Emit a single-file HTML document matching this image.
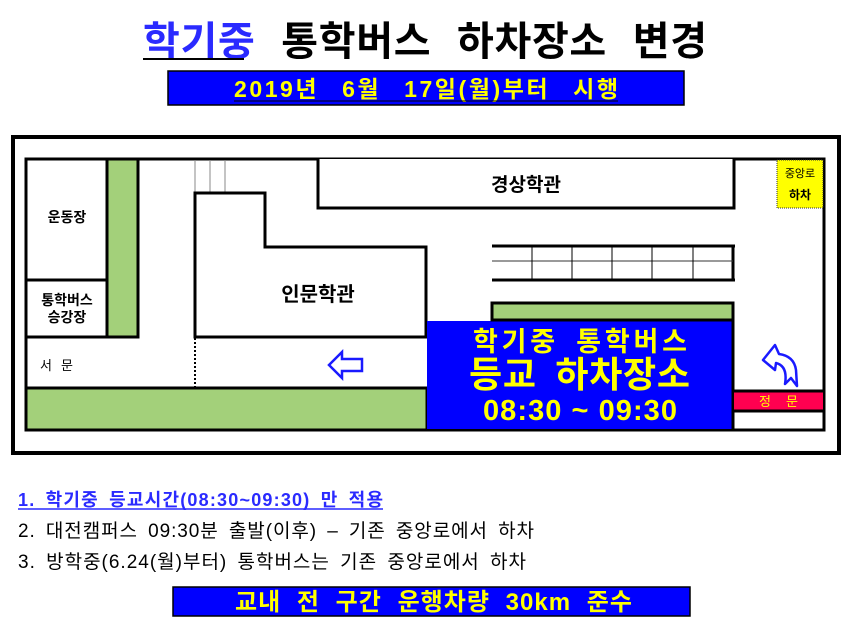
<!DOCTYPE html>
<html><head><meta charset="utf-8"><style>
body{margin:0;background:#fff;}
svg{display:block;font-family:"Liberation Sans","Noto Sans CJK KR","NanumGothic",sans-serif;}
</style></head><body>
<svg width="850" height="621" viewBox="0 0 850 621" xmlns="http://www.w3.org/2000/svg">
<rect width="850" height="621" fill="#fff"/>
<!-- Title -->
<text x="143" y="55" font-size="40" font-weight="bold" fill="#000" word-spacing="14" textLength="564" lengthAdjust="spacing"><tspan fill="#2a2aff">학기중</tspan> 통학버스 하차장소 변경</text>
<line x1="143" y1="59" x2="244" y2="59" stroke="#000" stroke-width="2"/>
<rect x="168" y="71" width="516" height="34" fill="#0000ff" stroke="#000" stroke-width="1.5"/>
<text x="234" y="97" font-size="23" font-weight="bold" fill="#ffff00" word-spacing="14" textLength="384" lengthAdjust="spacing">2019년 6월 17일(월)부터 시행</text>
<line x1="234" y1="101" x2="618" y2="101" stroke="#000" stroke-width="1"/>

<!-- Map frame -->
<rect x="13" y="137" width="826" height="316" fill="#fff" stroke="#000" stroke-width="4"/>
<rect x="26" y="159" width="798" height="271" fill="#fff" stroke="#000" stroke-width="3"/>

<!-- left boxes -->
<rect x="26" y="159" width="81" height="121" fill="#fff" stroke="#000" stroke-width="3"/>
<rect x="26" y="280" width="81" height="57" fill="#fff" stroke="#000" stroke-width="3"/>
<rect x="107" y="159" width="31" height="178" fill="#a3d07a" stroke="#000" stroke-width="3"/>
<text x="67" y="222" font-size="14" font-weight="bold" text-anchor="middle">운동장</text>
<text x="67" y="305" font-size="14" font-weight="bold" text-anchor="middle">통학버스</text>
<text x="67" y="322" font-size="14" font-weight="bold" text-anchor="middle">승강장</text>
<text x="40" y="370" font-size="13" textLength="33" lengthAdjust="spacing">서 문</text>

<!-- thin lines top -->
<line x1="195" y1="160" x2="195" y2="193" stroke="#888" stroke-width="1"/>
<line x1="210" y1="160" x2="210" y2="193" stroke="#888" stroke-width="1"/>
<line x1="225" y1="160" x2="225" y2="193" stroke="#888" stroke-width="1"/>
<line x1="195" y1="338" x2="195" y2="387" stroke="#000" stroke-width="2" stroke-dasharray="2,2"/>

<!-- 인문학관 -->
<polygon points="195,193 265,193 265,247 426,247 426,337 195,337" fill="#fff" stroke="#000" stroke-width="3"/>
<text x="318" y="301" font-size="20" font-weight="bold" text-anchor="middle">인문학관</text>

<!-- bottom green band -->
<rect x="26" y="388" width="401" height="42" fill="#a3d07a" stroke="#000" stroke-width="3"/>

<!-- left arrow -->
<polygon points="329,365 342,352 342,359 362,359 362,371 342,371 342,378" fill="#fff" stroke="#1a1aff" stroke-width="2.5"/>

<!-- 경상학관 -->
<polyline points="318,159 318,208 734,208 734,159" fill="#fff" stroke="#000" stroke-width="3"/>
<text x="526" y="191" font-size="19" font-weight="bold" text-anchor="middle">경상학관</text>

<!-- 중앙로 하차 -->
<rect x="777" y="160" width="46" height="48" fill="#ffff00" stroke="#333" stroke-width="1" stroke-dasharray="1,1"/>
<text x="800" y="177" font-size="11" text-anchor="middle">중앙로</text>
<text x="800" y="199" font-size="12" font-weight="bold" text-anchor="middle">하차</text>
<line x1="734" y1="159" x2="734" y2="208" stroke="#000" stroke-width="3"/>

<!-- grid -->
<line x1="492" y1="246" x2="735" y2="246" stroke="#000" stroke-width="3"/>
<line x1="492" y1="280" x2="735" y2="280" stroke="#000" stroke-width="3"/>
<line x1="733" y1="245" x2="733" y2="281" stroke="#000" stroke-width="3"/>
<line x1="492" y1="261" x2="733" y2="261" stroke="#333" stroke-width="1"/>
<g stroke="#000" stroke-width="1">
<line x1="532" y1="247" x2="532" y2="279"/><line x1="572" y1="247" x2="572" y2="279"/>
<line x1="612" y1="247" x2="612" y2="279"/><line x1="652" y1="247" x2="652" y2="279"/>
<line x1="693" y1="247" x2="693" y2="279"/></g>

<!-- blue box -->
<rect x="427" y="321" width="306" height="108" fill="#0000ff"/>
<line x1="733" y1="320" x2="733" y2="430" stroke="#000" stroke-width="3"/>
<rect x="492" y="303" width="241" height="17" fill="#a3d07a" stroke="#000" stroke-width="3"/>
<text x="473" y="351" font-size="27" font-weight="bold" fill="#ffff00" word-spacing="6" textLength="214" lengthAdjust="spacing">학기중 통학버스</text>
<text x="469" y="387" font-size="36" font-weight="bold" fill="#ffff00" word-spacing="8" textLength="221" lengthAdjust="spacing">등교 하차장소</text>
<text x="483" y="420" font-size="29" font-weight="bold" fill="#ffff00" textLength="194" lengthAdjust="spacing">08:30 ~ 09:30</text>

<!-- 정문 -->
<rect x="734" y="392" width="89" height="18" fill="#ff0050"/>
<line x1="734" y1="391" x2="824" y2="391" stroke="#000" stroke-width="3"/>
<line x1="734" y1="411" x2="824" y2="411" stroke="#000" stroke-width="3"/>
<text x="759" y="406" font-size="13" fill="#ffff00" textLength="39" lengthAdjust="spacing">정 문</text>

<!-- curved arrow -->
<path d="M775,345 L763,360 L775,370 L776,363 Q788,366 785,384 L791,378 L797,386 L796,370 Q794,356 779,354 Z" fill="#fff" stroke="#1a1aff" stroke-width="2.5" stroke-linejoin="round"/>

<!-- notes -->
<text x="18" y="506" font-size="18" font-weight="bold" fill="#2a2aff" word-spacing="4" textLength="365" lengthAdjust="spacing">1. 학기중 등교시간(08:30~09:30) 만 적용</text>
<line x1="18" y1="509" x2="383" y2="509" stroke="#2a2aff" stroke-width="1.5"/>
<text x="18" y="537" font-size="19" fill="#000" word-spacing="4" textLength="516" lengthAdjust="spacing">2. 대전캠퍼스 09:30분 출발(이후) – 기존 중앙로에서 하차</text>
<text x="18" y="568" font-size="19" fill="#000" word-spacing="4" textLength="508" lengthAdjust="spacing">3. 방학중(6.24(월)부터) 통학버스는 기존 중앙로에서 하차</text>

<rect x="173" y="587" width="517" height="29" fill="#0000ff" stroke="#000" stroke-width="1.5"/>
<text x="235" y="610" font-size="24" font-weight="bold" fill="#ffff00" word-spacing="8" textLength="397" lengthAdjust="spacing">교내 전 구간 운행차량 30km 준수</text>
</svg>
</body></html>
